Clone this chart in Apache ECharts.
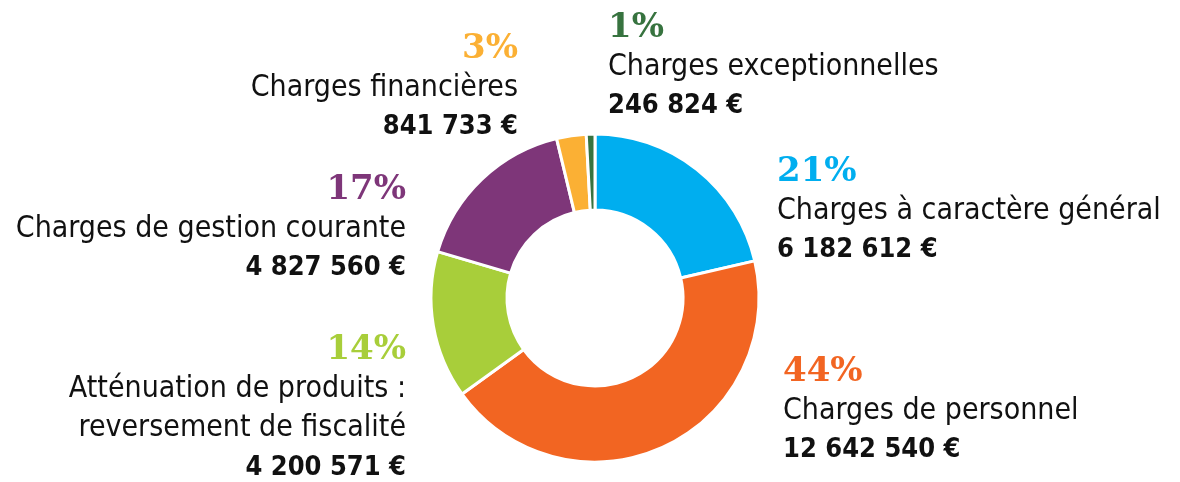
<!DOCTYPE html>
<html>
<head>
<meta charset="utf-8">
<script src="https://cdn.jsdelivr.net/npm/echarts@6/dist/echarts.min.js"></script>
<style>
  html, body { margin: 0; padding: 0; background: #fff; }
  #chart { width: 1180px; height: 482px; }
</style>
</head>
<body>
<div id="chart"></div>
<script>
const names = [
  'Charges à caractère général',
  'Charges de personnel',
  'Atténuation de produits :\nreversement de fiscalité',
  'Charges de gestion courante',
  'Charges financières',
  'Charges exceptionnelles',
];
const amounts = [6182612, 12642540, 4200571, 4827560, 841733, 246824];
const colors = ['#00AEEF', '#F26522', '#A8CE3A', '#7E3679', '#FBB034', '#37733F'];

// où poser chaque étiquette (centre vertical du bloc)
const labelPos = [
  { x: 777, y: 211, align: 'left' },
  { x: 783, y: 411, align: 'left' },
  { x: 406, y: 409, align: 'right' },
  { x: 406, y: 229, align: 'right' },
  { x: 518, y: 88, align: 'right' },
  { x: 608, y: 67, align: 'left' },
];

const fmt = (v) => String(v).replace(/\B(?=(\d{3})+(?!\d))/g, ' ') + ' €';

const chart = echarts.init(document.getElementById('chart'));

chart.setOption({
  backgroundColor: '#fff',
  animation: false,
  series: [
    {
      type: 'pie',
      center: [595, 298],
      radius: [88, 164],
      startAngle: 90,
      percentPrecision: 0,
      itemStyle: { borderColor: '#fff', borderWidth: 3 },
      labelLine: { show: false },
      label: {
        show: true,
        position: 'outside',
        overflow: 'none',
        formatter: (p) => `{pct|${p.percent}%}\n{name|${p.name}}\n{val|${fmt(p.value)}}`,
      },
      labelLayout: (p) => ({
        x: labelPos[p.dataIndex].x,
        y: labelPos[p.dataIndex].y,
        align: labelPos[p.dataIndex].align,
        verticalAlign: 'middle',
      }),
      data: names.map((n, i) => ({
        name: n,
        value: amounts[i],
        itemStyle: { color: colors[i] },
        label: {
          rich: {
            pct: {
              fontFamily: 'DejaVu Serif',
              fontWeight: 'bold',
              fontSize: 34,
              lineHeight: 39,
              color: colors[i],
            },
            name: {
              fontFamily: '"DejaVu Sans Condensed", sans-serif',
              fontSize: 30,
              lineHeight: 39,
              color: '#111',
            },
            val: {
              fontFamily: '"DejaVu Sans Condensed", sans-serif',
              fontWeight: 'bold',
              fontSize: 27,
              lineHeight: 39,
              color: '#111',
            },
          },
        },
      })),
    },
  ],
});
</script>
</body>
</html>
